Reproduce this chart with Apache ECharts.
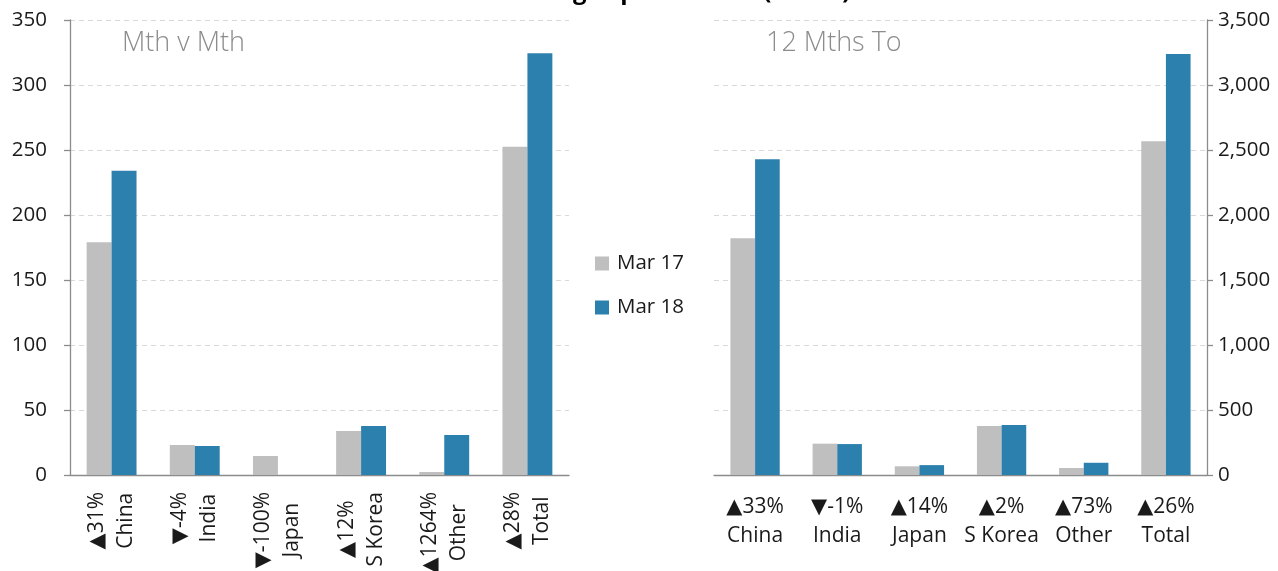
<!DOCTYPE html>
<html><head><meta charset="utf-8">
<script src="https://cdn.jsdelivr.net/npm/echarts@6/dist/echarts.min.js"></script>
<style>html,body{margin:0;padding:0;background:#fff}#c{width:1278px;height:571px}</style>
</head><body><div id="c"></div>
<script>
const TITLE = 'NZ Log Export Values (NZ$m)';
const categories = ['China', 'India', 'Japan', 'S Korea', 'Other', 'Total'];
const mthChange = ['▲31%', '▼-4%', '▼-100%', '▲12%', '▲1264%', '▲28%'];
const ytdChange = ['▲33%', '▼-1%', '▲14%', '▲2%', '▲73%', '▲26%'];
const seriesNames = ['Mar 17', 'Mar 18'];
const mthMar17 = [179, 23.1, 14.6, 33.8, 2.3, 252.5];
const mthMar18 = [234, 22.3, 0, 37.7, 30.8, 324.5];
const ytdMar17 = [1821, 241, 67, 377, 54, 2568];
const ytdMar18 = [2428, 238, 76, 385, 94, 3238];
const leftTicks = {min: 0, max: 350, interval: 50};
const rightTicks = {min: 0, max: 3500, interval: 500};

const FONT = '"Open Sans", "DejaVu Sans", sans-serif';
const GRAY = '#bfbfbf', BLUE = '#2c80ad';
const AX = {color: '#8c8c8c', width: 1.3};
const TXT = '#1a1a1a';
const split = {show: true, lineStyle: {color: '#d9d9d9', type: [5, 4], width: 1}};

const chart = echarts.init(document.getElementById('c'));
const option = {
  animation: false,
  title: {text: TITLE, left: 500, top: -25,
    textStyle: {fontFamily: FONT, fontSize: 24, fontWeight: 'bold', color: '#000'}},
  graphic: [
    {type: 'text', left: 122, top: 30, style: {text: 'Mth v Mth', fontFamily: FONT, fontSize: 27, fontWeight: 300, fill: '#8c8c8c'}},
    {type: 'text', left: 766, top: 30, style: {text: '12 Mths To', fontFamily: FONT, fontSize: 27, fontWeight: 300, fill: '#8c8c8c'}}
  ],
  legend: {orient: 'vertical', left: 590, top: 248, itemWidth: 14, itemHeight: 14, itemGap: 23,
    icon: 'rect', data: seriesNames,
    textStyle: {fontFamily: FONT, fontSize: 20.5, color: TXT, padding: [0, 0, 0, 3]}},
  grid: [
    {left: 70, right: 709, top: 20, bottom: 96, outerBoundsMode: 'none'},
    {left: 714, right: 71, top: 20, bottom: 96, outerBoundsMode: 'none'}
  ],
  xAxis: [
    {type: 'category', gridIndex: 0, data: categories,
      axisLine: {lineStyle: AX}, axisTick: {length: 7, lineStyle: AX},
      axisLabel: {rotate: 90, margin: 17, interval: 0,
        formatter: (v, i) => '{c|' + mthChange[i] + '}\n{c|' + v + '}',
        rich: {c: {align: 'center', fontFamily: FONT, fontSize: 21, lineHeight: 29, color: TXT}}}},
    {type: 'category', gridIndex: 1, data: categories,
      axisLine: {lineStyle: AX}, axisTick: {length: 7, lineStyle: AX},
      axisLabel: {margin: 18, interval: 0, fontFamily: FONT, fontSize: 21, lineHeight: 29, color: TXT,
        formatter: (v, i) => ytdChange[i] + '\n' + v}}
  ],
  yAxis: [
    {type: 'value', gridIndex: 0, min: leftTicks.min, max: leftTicks.max, interval: leftTicks.interval,
      axisLine: {show: true, lineStyle: AX}, axisTick: {show: true, length: 6, lineStyle: AX},
      splitLine: split,
      axisLabel: {margin: 23, fontFamily: FONT, fontSize: 20.5, color: TXT}},
    {type: 'value', gridIndex: 1, position: 'right', min: rightTicks.min, max: rightTicks.max, interval: rightTicks.interval,
      axisLine: {show: true, lineStyle: AX}, axisTick: {show: true, length: 6, lineStyle: AX},
      splitLine: split,
      axisLabel: {margin: 11, fontFamily: FONT, fontSize: 20.5, color: TXT,
        formatter: v => v.toLocaleString('en-US')}}
  ],
  series: [
    {name: seriesNames[0], type: 'bar', xAxisIndex: 0, yAxisIndex: 0, data: mthMar17,
      itemStyle: {color: GRAY}, barGap: '0%', barCategoryGap: '40%'},
    {name: seriesNames[1], type: 'bar', xAxisIndex: 0, yAxisIndex: 0, data: mthMar18,
      itemStyle: {color: BLUE}, barGap: '0%', barCategoryGap: '40%'},
    {name: seriesNames[0], type: 'bar', xAxisIndex: 1, yAxisIndex: 1, data: ytdMar17,
      itemStyle: {color: GRAY}, barGap: '0%', barCategoryGap: '40%'},
    {name: seriesNames[1], type: 'bar', xAxisIndex: 1, yAxisIndex: 1, data: ytdMar18,
      itemStyle: {color: BLUE}, barGap: '0%', barCategoryGap: '40%'}
  ]
};
chart.setOption(option);
</script>
</body></html>
